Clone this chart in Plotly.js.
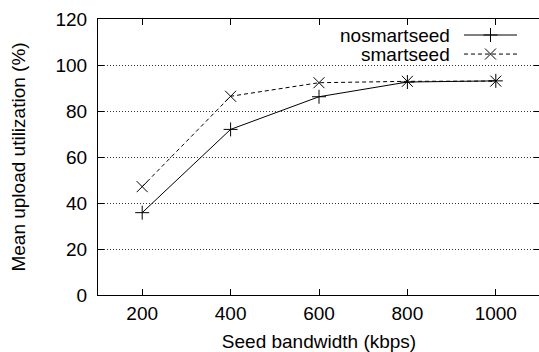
<!DOCTYPE html>
<html>
<head>
<meta charset="utf-8">
<script src="https://cdn.plot.ly/plotly-3.0.1.min.js"></script>
<style>
  html, body { margin: 0; padding: 0; overflow: hidden; background: #fff; }
  #chart { width: 539px; height: 352px; overflow: hidden; }
</style>
</head>
<body>
<div id="chart"></div>
<script>
// Seed bandwidth in kbps
const bandwidth = [200, 400, 600, 800, 1000];
// Mean upload utilization (%) per configuration
const noSmartSeed = [35.8, 72.0, 86.2, 92.6, 93.1];
const smartSeed = [47.1, 86.4, 92.3, 92.9, 93.0];
const seriesNames = ['nosmartseed', 'smartseed'];
const xTicks = [200, 400, 600, 800, 1000];
const yTicks = [0, 20, 40, 60, 80, 100, 120];

const FONT = 'Liberation Sans, Arial, Helvetica, sans-serif';
const fontSize = 19;

const lineStyles = [
  { dash: 'solid', symbol: 'cross-thin', size: 10 },
  { dash: '4px,3px', symbol: 'x-thin', size: 11 }
];
const seriesValues = [noSmartSeed, smartSeed];

const traces = seriesValues.map((vals, i) => ({
  type: 'scatter',
  mode: 'lines+markers',
  x: bandwidth,
  y: vals,
  name: seriesNames[i],
  showlegend: false,
  line: { color: '#000', width: 1, dash: lineStyles[i].dash },
  marker: {
    symbol: lineStyles[i].symbol,
    size: lineStyles[i].size,
    color: '#000',
    line: { color: '#000', width: 1 }
  },
  cliponaxis: false
}));

// Key samples, gnuplot-style (text left of the sample), on an overlay axis in [0,1]
const keyRows = [0.942, 0.873];
const keyX0 = 0.828, keyX1 = 0.948;
seriesNames.forEach((name, i) => {
  traces.push({
    type: 'scatter', mode: 'lines', xaxis: 'x2', yaxis: 'y2',
    x: [keyX0, keyX1], y: [keyRows[i], keyRows[i]],
    showlegend: false, hoverinfo: 'skip',
    line: { color: '#000', width: 1, dash: lineStyles[i].dash }
  });
  traces.push({
    type: 'scatter', mode: 'markers', xaxis: 'x2', yaxis: 'y2',
    x: [(keyX0 + keyX1) / 2], y: [keyRows[i]],
    showlegend: false, hoverinfo: 'skip',
    marker: {
      symbol: lineStyles[i].symbol, size: lineStyles[i].size, color: '#000',
      line: { color: '#000', width: 1 }
    }
  });
});

const annotations = seriesNames.map((name, i) => ({
  xref: 'x2', yref: 'y2', x: 0.802, y: keyRows[i],
  xanchor: 'right', yanchor: 'middle', showarrow: false,
  text: name, font: { family: FONT, size: fontSize, color: '#000' }
}));

const layout = {
  width: 542,
  height: 352,
  margin: { l: 98, r: 2, t: 19, b: 57 },
  paper_bgcolor: '#fff',
  plot_bgcolor: '#fff',
  font: { family: FONT, size: fontSize, color: '#000' },
  showlegend: false,
  xaxis: {
    range: [100, 1100],
    tickvals: xTicks,
    ticks: 'inside', ticklen: 6, tickwidth: 1, tickcolor: '#000',
    showline: true, linecolor: '#000', linewidth: 1, mirror: 'ticks',
    showgrid: false, zeroline: false,
    ticklabelstandoff: 1,
    title: { text: 'Seed bandwidth (kbps)', standoff: 14, font: { family: FONT, size: fontSize } }
  },
  yaxis: {
    range: [0, 120],
    tickvals: yTicks,
    ticks: 'inside', ticklen: 6, tickwidth: 1, tickcolor: '#000',
    showline: true, linecolor: '#000', linewidth: 1, mirror: 'ticks',
    showgrid: true, gridcolor: '#333', gridwidth: 1, griddash: '1px,2px',
    zeroline: false,
    ticklabelstandoff: 6,
    title: { text: 'Mean upload utilization (%)', standoff: 24, font: { family: FONT, size: fontSize } }
  },
  xaxis2: { overlaying: 'x', range: [0, 1], visible: false, fixedrange: true },
  yaxis2: { overlaying: 'y', range: [0, 1], visible: false, fixedrange: true },
  annotations: annotations
};

Plotly.newPlot('chart', traces, layout, { displayModeBar: false, staticPlot: true });
</script>
</body>
</html>
